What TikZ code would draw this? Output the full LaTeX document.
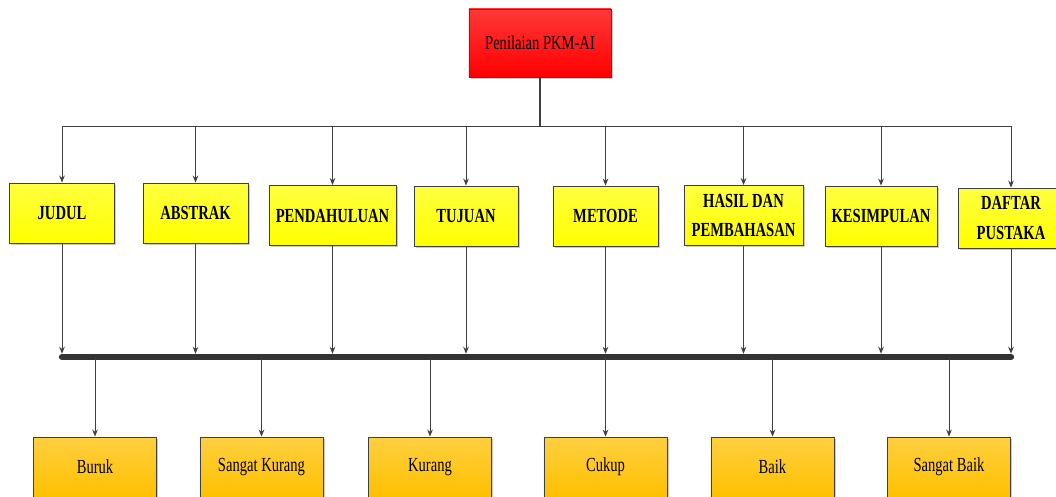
\documentclass[tikz,border=0pt]{standalone}
\usepackage{fontspec}
\setmainfont[FakeStretch=0.73]{Liberation Serif}
\usetikzlibrary{arrows.meta,shadows}

\definecolor{gold}{RGB}{255,192,0}
\definecolor{linegray}{RGB}{64,64,64}

\begin{document}
\begin{tikzpicture}[x=0.025cm,y=-0.025cm,
	box/.style={draw=linegray, line width=0.6pt, align=center,
		drop shadow={shadow xshift=1.2pt, shadow yshift=-1.2pt, fill=black!35, opacity=0.6},
		font=\fontsize{14.2pt}{21.3pt}\selectfont},
	headbox/.style={box, top color=red!78!white, bottom color=red, minimum width=3.55cm, minimum height=1.7cm},
	aspect/.style={box, top color=yellow!75!white, bottom color=yellow, minimum height=1.5cm,
		font=\fontsize{14.2pt}{21.3pt}\selectfont\bfseries},
	grade/.style={box, top color=gold!75!white, bottom color=gold, minimum width=3.075cm, minimum height=1.5cm},
	link/.style={draw=linegray, line width=0.7pt},
	arr/.style={link, -{Stealth[length=5pt,width=4pt]}},
	bar/.style={draw=black!80, line width=4.5pt, line cap=round}
]
	\useasboundingbox (0,0) rectangle (1056,496);
	\clip (0,0) rectangle (1056,496);

	% top
	\node[headbox] (head) at (540,43) {Penilaian PKM-AI};
	\coordinate (hub) at (540,126);

	% aspek penilaian
	\node[aspect, minimum width=2.625cm] (judul) at (62,213) {JUDUL};
	\node[aspect, minimum width=2.625cm] (abstrak) at (195.5,213) {ABSTRAK};
	\node[aspect, minimum width=3.175cm] (pendahuluan) at (332.5,215.5) {PENDAHULUAN};
	\node[aspect, minimum width=2.6cm] (tujuan) at (466,216) {TUJUAN};
	\node[aspect, minimum width=2.625cm] (metode) at (605.5,216) {METODE};
	\node[aspect, minimum width=2.975cm] (hasil) at (743.5,215.5) {HASIL DAN\\PEMBAHASAN};
	\node[aspect, minimum width=2.8cm] (kesimpulan) at (881,216) {KESIMPULAN};
	\node[aspect, minimum width=2.65cm] (daftar) at (1011,218) {DAFTAR\\PUSTAKA};

	% skala nilai
	\node[grade] (buruk) at (95,467) {Buruk};
	\node[grade] (sangatkurang) at (261.5,467) {Sangat Kurang};
	\node[grade] (kurang) at (430,467) {Kurang};
	\node[grade] (cukup) at (605.5,467) {Cukup};
	\node[grade] (baik) at (772.5,467) {Baik};
	\node[grade] (sangatbaik) at (949,467) {Sangat Baik};

	\coordinate (barL) at (62,357);
	\coordinate (barR) at (1011,357);

	\draw[link, line width=1.3pt] (head) -- (hub);
	\draw[arr] (hub) -| (judul);
	\draw[arr] (hub) -| (abstrak);
	\draw[arr] (hub) -| (pendahuluan);
	\draw[arr] (hub) -| (tujuan);
	\draw[arr] (hub) -| (metode);
	\draw[arr] (hub) -| (hasil);
	\draw[arr] (hub) -| (kesimpulan);
	\draw[arr] (hub) -| (daftar);

	\draw[arr, shorten >=2.3pt] (judul) -- (judul |- barL);
	\draw[arr, shorten >=2.3pt] (abstrak) -- (abstrak |- barL);
	\draw[arr, shorten >=2.3pt] (pendahuluan) -- (pendahuluan |- barL);
	\draw[arr, shorten >=2.3pt] (tujuan) -- (tujuan |- barL);
	\draw[arr, shorten >=2.3pt] (metode) -- (metode |- barL);
	\draw[arr, shorten >=2.3pt] (hasil) -- (hasil |- barL);
	\draw[arr, shorten >=2.3pt] (kesimpulan) -- (kesimpulan |- barL);
	\draw[arr, shorten >=2.3pt] (daftar) -- (daftar |- barL);

	\draw[bar] (barL) -- (barR);

	\draw[arr] (buruk |- barL) -- (buruk);
	\draw[arr] (sangatkurang |- barL) -- (sangatkurang);
	\draw[arr] (kurang |- barL) -- (kurang);
	\draw[arr] (cukup |- barL) -- (cukup);
	\draw[arr] (baik |- barL) -- (baik);
	\draw[arr] (sangatbaik |- barL) -- (sangatbaik);
\end{tikzpicture}
\end{document}
